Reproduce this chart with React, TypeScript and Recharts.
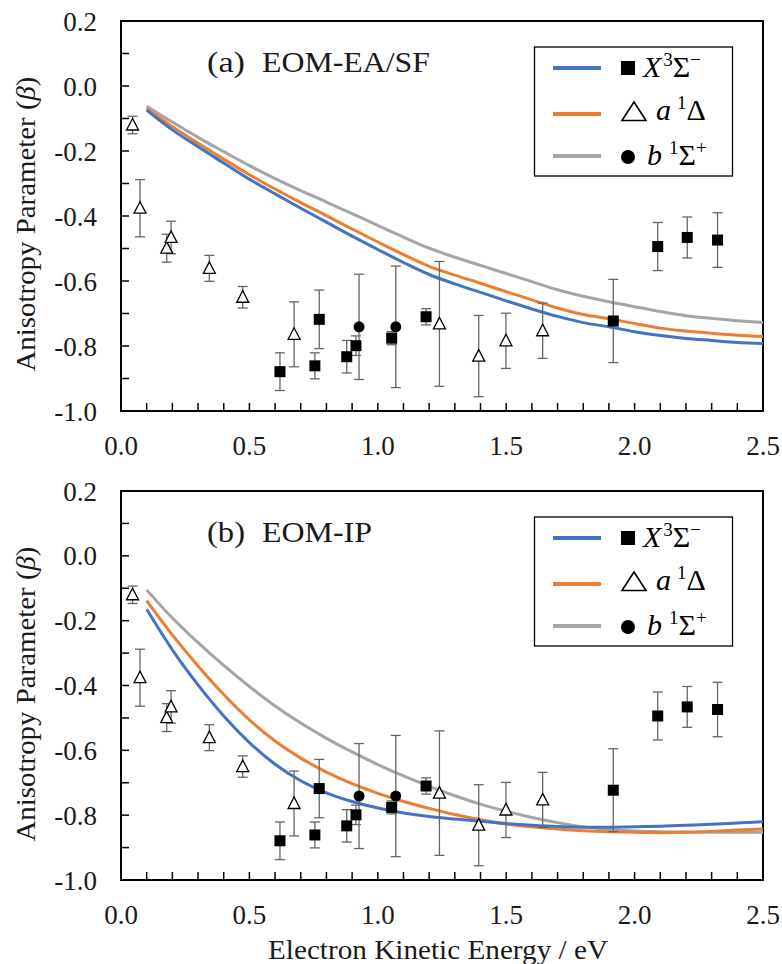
import React from 'react';
import { ComposedChart, Line, Scatter, XAxis, YAxis, ErrorBar, ReferenceArea } from 'recharts';

// theory curves, sampled every 0.1 eV
const xCurve = [0.1, 0.2, 0.3, 0.4, 0.5, 0.6, 0.7, 0.8, 0.9, 1.0, 1.1, 1.2, 1.3, 1.4, 1.5, 1.6, 1.7, 1.8, 1.9, 2.0, 2.1, 2.2, 2.3, 2.4, 2.5];

const eaBlue = [-0.074, -0.135, -0.187, -0.237, -0.287, -0.332, -0.376, -0.419, -0.462, -0.503, -0.543, -0.580, -0.609, -0.635, -0.661, -0.686, -0.709, -0.728, -0.741, -0.756, -0.768, -0.777, -0.783, -0.789, -0.792];
const eaOrange = [-0.069, -0.125, -0.176, -0.225, -0.273, -0.317, -0.359, -0.399, -0.440, -0.480, -0.519, -0.555, -0.582, -0.607, -0.633, -0.658, -0.683, -0.703, -0.716, -0.731, -0.745, -0.754, -0.761, -0.767, -0.771];
const eaGray = [-0.062, -0.111, -0.158, -0.202, -0.245, -0.285, -0.322, -0.357, -0.393, -0.429, -0.465, -0.499, -0.527, -0.552, -0.577, -0.602, -0.627, -0.647, -0.664, -0.679, -0.694, -0.707, -0.715, -0.722, -0.728];

const ipBlue = [-0.165, -0.290, -0.398, -0.494, -0.576, -0.643, -0.694, -0.731, -0.758, -0.778, -0.793, -0.804, -0.812, -0.819, -0.826, -0.831, -0.835, -0.837, -0.837, -0.836, -0.834, -0.831, -0.828, -0.824, -0.820];
const ipOrange = [-0.138, -0.244, -0.340, -0.428, -0.506, -0.571, -0.624, -0.667, -0.703, -0.733, -0.758, -0.779, -0.798, -0.814, -0.827, -0.836, -0.843, -0.848, -0.851, -0.853, -0.854, -0.853, -0.850, -0.846, -0.843];
const ipGray = [-0.105, -0.192, -0.268, -0.338, -0.403, -0.463, -0.516, -0.563, -0.605, -0.644, -0.679, -0.711, -0.740, -0.766, -0.788, -0.807, -0.823, -0.836, -0.844, -0.849, -0.851, -0.852, -0.853, -0.853, -0.853];

// experiment: a 1Delta (open triangles)
const triX = [0.045, 0.074, 0.178, 0.195, 0.344, 0.474, 0.674, 1.240, 1.393, 1.499, 1.642];
const triY = [-0.120, -0.376, -0.499, -0.466, -0.561, -0.650, -0.764, -0.732, -0.831, -0.784, -0.753];
const triErr = [0.027, 0.088, 0.043, 0.050, 0.040, 0.033, 0.100, 0.192, 0.125, 0.085, 0.085];

// experiment: X 3Sigma- (squares)
const sqX = [0.619, 0.755, 0.772, 0.879, 0.915, 1.054, 1.188, 1.917, 2.090, 2.205, 2.323];
const sqY = [-0.879, -0.861, -0.718, -0.833, -0.799, -0.776, -0.710, -0.723, -0.494, -0.466, -0.474];
const sqErr = [0.058, 0.040, 0.090, 0.050, 0.030, 0.020, 0.025, 0.128, 0.074, 0.063, 0.084];

// experiment: b 1Sigma+ (circles)
const circX = [0.927, 1.070];
const circY = [-0.741, -0.741];
const circErr = [0.162, 0.187];

const xTicks = [0, 0.1, 0.2, 0.3, 0.4, 0.5, 0.6, 0.7, 0.8, 0.9, 1.0, 1.1, 1.2, 1.3, 1.4, 1.5, 1.6, 1.7, 1.8, 1.9, 2.0, 2.1, 2.2, 2.3, 2.4, 2.5];
const yTicks = [-1.0, -0.9, -0.8, -0.7, -0.6, -0.5, -0.4, -0.3, -0.2, -0.1, 0.0, 0.1, 0.2];

const BLUE = '#4472C4';
const ORANGE = '#ED7D31';
const GRAY = '#A5A5A5';
const FONT = "'Liberation Serif', 'DejaVu Serif', serif";
const INK = '#1a1a1a';
const serif = { fontFamily: FONT };

const pts = (xs: number[], ys: number[], errs?: number[]) =>
  xs.map((x, i) => (errs ? { x, y: ys[i], err: errs[i] } : { x, y: ys[i] }));

const XTick = (props: any) => {
  const { x, y, payload } = props;
  const v = payload.value;
  const major = Math.round(v * 10) % 5 === 0;
  return (
    <g>
      <line x1={x} x2={x} y1={y} y2={y - 8} stroke="#000" strokeWidth={1.5} />
      {major && (
        <text x={x} y={y + 44} textAnchor="middle" style={serif} fontSize={27} fill={INK}>
          {v.toFixed(1)}
        </text>
      )}
    </g>
  );
};

const YTick = (props: any) => {
  const { x, y, payload } = props;
  const v = payload.value;
  const major = Math.abs(Math.round(v * 10)) % 2 === 0;
  return (
    <g>
      <line x1={x} x2={x + 8} y1={y} y2={y} stroke="#000" strokeWidth={1.5} />
      {major && (
        <text x={x - 24} y={y + 9.5} textAnchor="end" style={serif} fontSize={27} fill={INK}>
          {v.toFixed(1)}
        </text>
      )}
    </g>
  );
};

const SquareDot = (p: any) => <rect x={p.cx - 5.5} y={p.cy - 5.5} width={11} height={11} fill="#000" />;
const TriDot = (p: any) => (
  <polygon
    points={`${p.cx},${p.cy - 6.5} ${p.cx - 6},${p.cy + 5} ${p.cx + 6},${p.cy + 5}`}
    fill="#fff"
    stroke="#000"
    strokeWidth={1.3}
  />
);
const CircleDot = (p: any) => <circle cx={p.cx} cy={p.cy} r={5.5} fill="#000" />;

function Legend() {
  return (
    <g style={serif} fill="#000">
      <rect x={534.5} y={47} width={198} height={129} fill="#fff" stroke="#000" strokeWidth={1.3} />
      <line x1={553} x2={601} y1={68} y2={68} stroke={BLUE} strokeWidth={4} />
      <line x1={553} x2={601} y1={114} y2={114} stroke={ORANGE} strokeWidth={4} />
      <line x1={553} x2={601} y1={156} y2={156} stroke={GRAY} strokeWidth={4} />
      <rect x={621} y={61} width={14} height={14} fill="#000" />
      <polygon points="634,102 622,120.5 646,120.5" fill="none" stroke="#000" strokeWidth={1.6} />
      <circle cx={628} cy={157} r={7} fill="#000" />
      <text x={643} y={77} fontSize={30} style={serif}>
        <tspan fontStyle="italic">X</tspan>
        <tspan fontSize={19} dx={2} dy={-11}>3</tspan>
        <tspan dy={11}>Σ</tspan>
        <tspan fontSize={19} dy={-11}>−</tspan>
      </text>
      <text x={656} y={120} fontSize={30} style={serif}>
        <tspan fontStyle="italic">a</tspan>
        <tspan fontSize={19} dx={6} dy={-11}>1</tspan>
        <tspan dy={11}>Δ</tspan>
      </text>
      <text x={647} y={165} fontSize={30} style={serif}>
        <tspan fontStyle="italic">b</tspan>
        <tspan fontSize={19} dx={7} dy={-11}>1</tspan>
        <tspan dy={11}>Σ</tspan>
        <tspan fontSize={19} dy={-11}>+</tspan>
      </text>
    </g>
  );
}

function Panel({ tag, method, methodLen, blue, orange, gray, height, bottom, xTitle }: any) {
  return (
    <div style={{ position: 'relative', width: 782, height }}>
      <ComposedChart width={782} height={height} margin={{ top: 21, right: 19, bottom, left: 61 }}>
        <ReferenceArea x1={0} x2={2.5} y1={-1} y2={0.2} fill="none" stroke="#000" strokeWidth={2} ifOverflow="visible" />
        <XAxis
          type="number"
          dataKey="x"
          domain={[0, 2.5]}
          ticks={xTicks}
          interval={0}
          tickSize={0}
          tickMargin={0}
          height={50}
          axisLine={false}
          tickLine={false}
          tick={(p: any) => <XTick {...p} />}
          allowDataOverflow
        />
        <YAxis
          type="number"
          dataKey="y"
          domain={[-1, 0.2]}
          ticks={yTicks}
          interval={0}
          tickSize={0}
          tickMargin={0}
          width={60}
          axisLine={false}
          tickLine={false}
          tick={(p: any) => <YTick {...p} />}
          allowDataOverflow
        />
        <Line data={pts(xCurve, gray)} dataKey="y" type="monotone" stroke={GRAY} strokeWidth={3} dot={false} isAnimationActive={false} />
        <Line data={pts(xCurve, orange)} dataKey="y" type="monotone" stroke={ORANGE} strokeWidth={3} dot={false} isAnimationActive={false} />
        <Line data={pts(xCurve, blue)} dataKey="y" type="monotone" stroke={BLUE} strokeWidth={3} dot={false} isAnimationActive={false} />
        <Scatter data={pts(triX, triY, triErr)} dataKey="y" shape={TriDot} isAnimationActive={false}>
          <ErrorBar dataKey="err" direction="y" width={5} stroke="#666" strokeWidth={1.3} />
        </Scatter>
        <Scatter data={pts(sqX, sqY, sqErr)} dataKey="y" shape={SquareDot} isAnimationActive={false}>
          <ErrorBar dataKey="err" direction="y" width={5} stroke="#666" strokeWidth={1.3} />
        </Scatter>
        <Scatter data={pts(circX, circY, circErr)} dataKey="y" shape={CircleDot} isAnimationActive={false}>
          <ErrorBar dataKey="err" direction="y" width={5} stroke="#666" strokeWidth={1.3} />
        </Scatter>
      </ComposedChart>
      <svg width={782} height={height} style={{ position: 'absolute', left: 0, top: 0, pointerEvents: 'none', fontFamily: FONT }}>
        <text x={207} y={72} style={serif} fontSize={29} fill={INK} textLength={38} lengthAdjust="spacingAndGlyphs">
          {tag}
        </text>
        <text x={262} y={72} style={serif} fontSize={29} fill={INK} textLength={methodLen} lengthAdjust="spacingAndGlyphs">
          {method}
        </text>
        <text
          x={35}
          y={224}
          transform="rotate(-90 35 224)"
          textAnchor="middle"
          style={serif}
          fontSize={28}
          fill={INK}
          textLength={295}
          lengthAdjust="spacingAndGlyphs"
        >
          Anisotropy Parameter (<tspan fontStyle="italic">β</tspan>)
        </text>
        {xTitle && (
          <text x={438} y={489} textAnchor="middle" style={serif} fontSize={28} fill={INK} textLength={340} lengthAdjust="spacingAndGlyphs">
            Electron Kinetic Energy / eV
          </text>
        )}
        <Legend />
      </svg>
    </div>
  );
}

export default function App() {
  return (
    <div style={{ position: 'absolute', left: 0, top: 0, width: 782, height: 964, background: '#fff', fontFamily: FONT }}>
      <Panel tag="(a)" method="EOM-EA/SF" methodLen={168} blue={eaBlue} orange={eaOrange} gray={eaGray} height={470} bottom={9} />
      <Panel tag="(b)" method="EOM-IP" methodLen={110} blue={ipBlue} orange={ipOrange} gray={ipGray} height={494} bottom={34} xTitle />
    </div>
  );
}
